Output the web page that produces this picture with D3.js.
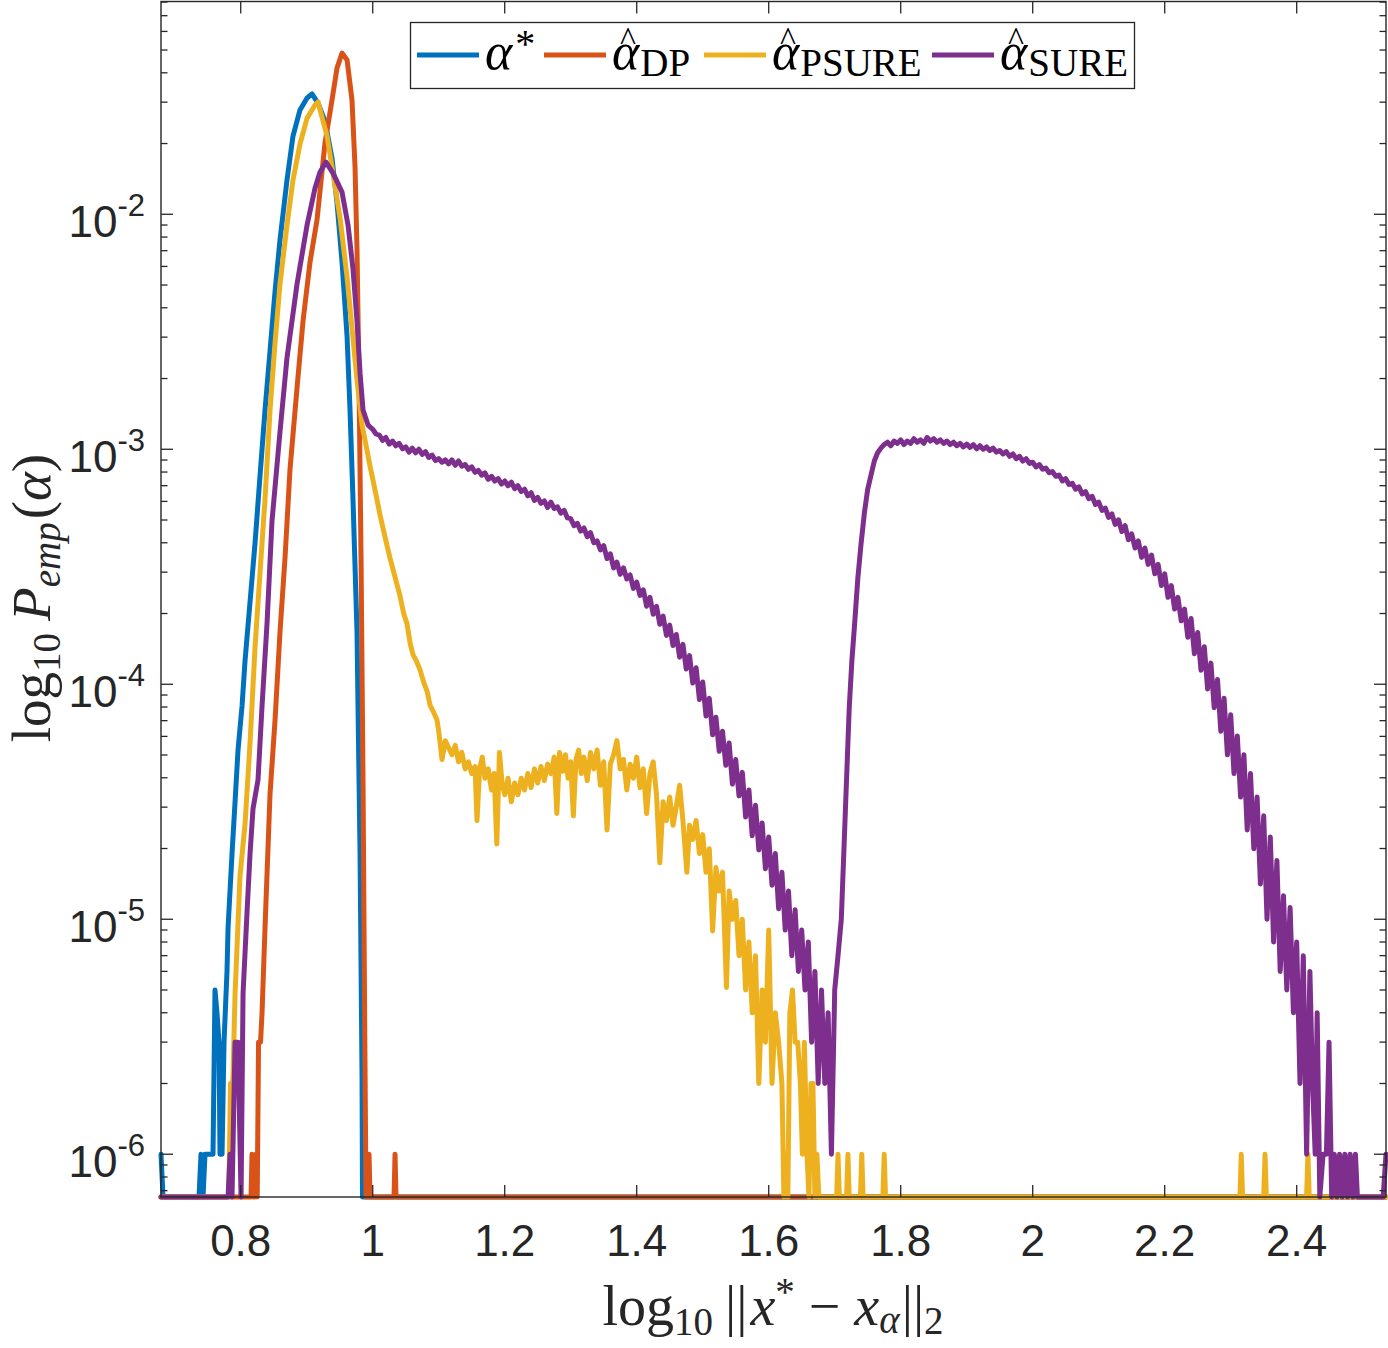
<!DOCTYPE html>
<html><head><meta charset="utf-8">
<script src="https://cdn.jsdelivr.net/npm/d3@7"></script>
<style>html,body{margin:0;padding:0;background:#fff;} svg{display:block;}</style>
</head><body>
<svg id="chart" width="1388" height="1348"></svg>
<script>
// ---------- DATA: [log10 ||x*-x_alpha||_2 , log10 P_emp] (null = empty bin) ----------
const xTicks = [0.8, 1, 1.2, 1.4, 1.6, 1.8, 2, 2.2, 2.4];
const yTickExps = [-6, -5, -4, -3, -2];
const xDomain = [0.6792, 2.5353];
const yDomainLog = [-6.182, -1.0945];

const alphaStar = [
[0.6792,-6],[0.6823,null],[0.7368,null],[0.7398,-6],[0.7429,null],[0.7459,-6],[0.7550,-6],[0.7580,-6],[0.7610,-5.301],[0.7640,-5.398],[0.7671,-5.523],[0.7686,-6],[0.7717,-6],[0.7747,-5.523],[0.7792,-5.222],[0.7808,-5.037],[0.7868,-4.722],[0.7914,-4.501],[0.7959,-4.280],[0.8020,-4.092],[0.8065,-3.901],[0.8141,-3.650],[0.8217,-3.399],[0.8292,-3.114],[0.8368,-2.833],[0.8444,-2.582],[0.8520,-2.327],[0.8595,-2.109],[0.8701,-1.854],[0.8792,-1.667],[0.8898,-1.556],[0.9005,-1.505],[0.9080,-1.488],[0.9171,-1.527],[0.9277,-1.604],[0.9383,-1.761],[0.9459,-1.952],[0.9535,-2.203],[0.9611,-2.518],[0.9656,-2.833],[0.9701,-3.212],[0.9762,-3.778],[0.9777,-4.092],[0.9808,-4.722],[0.9838,-5.667],[0.9845,null],[2.5353,null]
];

const alphaDP = [
[0.6792,null],[0.8156,null],[0.8171,-6],[0.8190,null],[0.8217,null],[0.8232,-6],[0.8250,null],[0.8270,-5.523],[0.8300,-5.523],[0.8323,-5.398],[0.8368,-5.037],[0.8444,-4.467],[0.8520,-4.152],[0.8595,-3.778],[0.8671,-3.463],[0.8747,-3.084],[0.8853,-2.739],[0.8944,-2.454],[0.9050,-2.203],[0.9156,-2.024],[0.9277,-1.696],[0.9383,-1.514],[0.9459,-1.378],[0.9535,-1.314],[0.9611,-1.343],[0.9686,-1.514],[0.9732,-1.799],[0.9762,-2.152],[0.9792,-2.705],[0.9823,-3.463],[0.9853,-4.407],[0.9876,-5.352],[0.9898,null],[0.9929,null],[0.9944,-6],[0.9959,null],[1.0323,null],[1.0338,-6],[1.0353,null],[2.5353,null]
];

const alphaPSURE = [
[0.6792,null],[0.7820,null],[0.7845,-5.699],[0.7880,-5.699],[0.7914,-5.318],[0.7989,-4.817],[0.8065,-4.596],[0.8141,-4.251],[0.8217,-3.841],[0.8292,-3.527],[0.8368,-3.212],[0.8444,-2.833],[0.8520,-2.548],[0.8595,-2.297],[0.8701,-2.046],[0.8792,-1.854],[0.8898,-1.701],[0.9005,-1.591],[0.9126,-1.535],[0.9171,-1.522],[0.9308,-1.667],[0.9398,-1.825],[0.9505,-2.016],[0.9611,-2.267],[0.9686,-2.484],[0.9762,-2.705],[0.9838,-2.897],[0.9883,-2.960],[0.9959,-3.071],[1.0035,-3.173],[1.0111,-3.280],[1.0186,-3.373],[1.0262,-3.463],[1.0338,-3.544],[1.0414,-3.624],[1.0470,-3.700],[1.0520,-3.743],[1.0570,-3.830],[1.0611,-3.875],[1.0660,-3.900],[1.0717,-3.939],[1.0770,-3.990],[1.0823,-4.029],[1.0870,-4.090],[1.0914,-4.114],[1.0974,-4.152],
[1.100,-4.20],[1.105,-4.32],[1.110,-4.24],[1.115,-4.27],[1.120,-4.30],[1.125,-4.26],[1.130,-4.33],[1.135,-4.29],[1.140,-4.36],[1.145,-4.33],[1.150,-4.38],[1.155,-4.35],[1.158,-4.58],[1.162,-4.36],[1.166,-4.31],[1.170,-4.40],[1.175,-4.36],[1.180,-4.45],[1.184,-4.38],[1.188,-4.68],[1.192,-4.29],[1.196,-4.42],[1.200,-4.47],[1.205,-4.40],[1.210,-4.50],[1.215,-4.42],[1.220,-4.47],[1.225,-4.40],[1.230,-4.45],[1.235,-4.38],[1.240,-4.44],[1.245,-4.36],[1.250,-4.42],[1.255,-4.35],[1.260,-4.41],[1.265,-4.34],[1.270,-4.38],[1.275,-4.31],[1.279,-4.55],[1.283,-4.29],[1.288,-4.37],[1.292,-4.30],[1.296,-4.40],[1.300,-4.33],[1.304,-4.56],[1.308,-4.32],[1.312,-4.28],[1.316,-4.38],[1.320,-4.31],[1.325,-4.41],[1.330,-4.29],[1.335,-4.36],[1.340,-4.28],[1.345,-4.43],[1.350,-4.33],[1.355,-4.62],[1.360,-4.34],[1.365,-4.30],[1.370,-4.24],[1.375,-4.36],[1.380,-4.32],[1.385,-4.45],[1.390,-4.34],[1.395,-4.40],[1.400,-4.31],[1.405,-4.44],[1.410,-4.36],[1.415,-4.55],[1.420,-4.38],[1.425,-4.33],[1.430,-4.47],[1.435,-4.76],[1.440,-4.50],[1.445,-4.58],[1.450,-4.48],[1.455,-4.60],[1.460,-4.52],[1.465,-4.43],[1.470,-4.58],[1.476,-4.80],[1.480,-4.60],[1.485,-4.66],[1.490,-4.58],[1.495,-4.72],[1.500,-4.64],[1.505,-4.80],[1.510,-4.70],[1.515,-5.05],[1.520,-4.78],[1.525,-4.88],[1.530,-4.80],[1.536,-5.29],[1.540,-4.88],[1.545,-5.00],[1.550,-4.92],[1.555,-5.155],[1.560,-5.00],[1.565,-5.301],[1.570,-5.097],[1.575,-5.398],[1.580,-5.155],[1.585,-5.699],[1.590,-5.301],[1.595,-5.523],[1.600,-5.046],[1.605,-5.699],[1.610,-5.398],[1.615,-5.523],[1.620,-5.699],[1.623,null],[1.626,-6],[1.629,null],[1.632,-5.398],[1.636,-5.301],[1.640,-5.523],[1.644,-5.523],[1.648,-5.699],[1.651,-6],[1.654,-5.523],[1.658,-6],[1.661,null],[1.664,-5.699],[1.667,-5.699],[1.670,null],[1.673,-6],[1.676,null],
[1.703,null],[1.705,-6],[1.707,null],[1.718,null],[1.720,-6],[1.722,null],[1.739,null],[1.741,-6],[1.743,null],[1.773,null],[1.775,-6],[1.777,null],[2.314,null],[2.316,-6],[2.318,null],[2.350,null],[2.352,-6],[2.354,null],[2.415,null],[2.417,-6],[2.419,null],[2.5353,null]
];

const alphaSURE = [
[0.6792,null],[0.7808,null],[0.7838,-6],[0.7868,null],[0.7914,-5.523],[0.7959,-5.523],[0.8005,null],[0.8035,-5.318],[0.8095,-4.973],[0.8141,-4.722],[0.8186,-4.530],[0.8262,-4.407],[0.8323,-4.092],[0.8398,-3.743],[0.8474,-3.305],[0.8595,-2.926],[0.8701,-2.611],[0.8853,-2.297],[0.9005,-2.046],[0.9126,-1.888],[0.9202,-1.820],[0.9292,-1.778],[0.9398,-1.825],[0.9535,-1.906],[0.9626,-2.046],[0.9701,-2.233],[0.9762,-2.454],[0.9808,-2.676],[0.9853,-2.833],[0.9929,-2.897],
[1.000,-2.915],[1.005,-2.935],[1.010,-2.940],[1.015,-2.962],[1.020,-2.950],[1.025,-2.978],[1.030,-2.965],[1.035,-2.985],[1.040,-2.975],[1.045,-2.998],[1.050,-2.990],[1.055,-3.012],[1.060,-2.995],[1.065,-3.015],[1.070,-3.000],[1.075,-3.022],[1.080,-3.010],[1.085,-3.035],[1.090,-3.025],[1.095,-3.048],[1.100,-3.040],[1.105,-3.055],[1.110,-3.045],[1.115,-3.062],[1.120,-3.045],[1.125,-3.068],[1.130,-3.050],[1.135,-3.072],[1.140,-3.065],[1.145,-3.085],[1.150,-3.075],[1.155,-3.098],[1.160,-3.090],[1.165,-3.110],[1.170,-3.100],[1.175,-3.128],[1.180,-3.115],[1.185,-3.135],[1.190,-3.125],[1.195,-3.148],[1.200,-3.135],[1.205,-3.155],[1.210,-3.140],[1.215,-3.168],[1.220,-3.155],[1.225,-3.180],[1.230,-3.170],[1.235,-3.198],[1.240,-3.185],[1.245,-3.218],[1.250,-3.205],[1.255,-3.230],[1.260,-3.220],[1.265,-3.248],[1.270,-3.225],[1.275,-3.252],[1.280,-3.245],[1.285,-3.272],[1.290,-3.260],[1.295,-3.292],[1.300,-3.295],[1.305,-3.325],[1.310,-3.315],[1.315,-3.348],[1.320,-3.335],[1.325,-3.372],[1.330,-3.355],[1.335,-3.398],[1.340,-3.390],[1.345,-3.428],[1.350,-3.410],[1.355,-3.465],[1.360,-3.445],[1.365,-3.505],[1.370,-3.480],[1.375,-3.532],[1.380,-3.505],[1.385,-3.552],[1.390,-3.535],[1.395,-3.592],[1.400,-3.565],[1.405,-3.622],[1.410,-3.598],[1.415,-3.668],[1.420,-3.630],[1.425,-3.702],[1.430,-3.668],[1.435,-3.745],[1.440,-3.710],[1.445,-3.792],[1.450,-3.748],[1.455,-3.835],[1.460,-3.788],[1.465,-3.885],[1.470,-3.830],[1.475,-3.935],[1.480,-3.878],[1.485,-3.995],[1.490,-3.930],[1.495,-4.065],[1.500,-3.990],[1.505,-4.135],[1.510,-4.060],[1.515,-4.215],[1.520,-4.140],[1.525,-4.285],[1.530,-4.200],[1.535,-4.345],[1.540,-4.250],[1.545,-4.425],[1.550,-4.320],[1.555,-4.475],[1.560,-4.375],[1.565,-4.565],[1.570,-4.450],[1.575,-4.645],[1.580,-4.515],[1.585,-4.705],[1.590,-4.590],[1.595,-4.785],[1.600,-4.650],[1.605,-4.855],[1.610,-4.720],[1.615,-4.955],[1.620,-4.800],[1.625,-5.046],[1.630,-4.880],[1.635,-5.155],[1.640,-4.960],[1.645,-5.222],[1.650,-5.046],[1.655,-5.301],[1.660,-5.097],[1.665,-5.523],[1.670,-5.222],[1.675,-5.699],[1.680,-5.301],[1.685,-5.699],[1.690,-5.398],[1.695,-6],[1.700,-5.301],[1.705,-5.155],[1.710,-5.000],[1.714,-4.700],[1.718,-4.400],[1.722,-4.100],[1.726,-3.900],[1.730,-3.750],[1.735,-3.550],[1.740,-3.400],[1.745,-3.270],[1.750,-3.170],[1.755,-3.110],[1.760,-3.050],[1.765,-3.015],[1.770,-2.995],
[1.775,-2.980],[1.780,-2.970],[1.785,-2.985],[1.790,-2.965],[1.795,-2.975],[1.800,-2.960],[1.805,-2.980],[1.810,-2.965],[1.815,-2.975],[1.820,-2.955],[1.825,-2.970],[1.830,-2.960],[1.835,-2.975],[1.840,-2.950],[1.845,-2.965],[1.850,-2.955],[1.855,-2.970],[1.860,-2.960],[1.865,-2.975],[1.870,-2.965],[1.875,-2.980],[1.880,-2.970],[1.885,-2.985],[1.890,-2.975],[1.895,-2.990],[1.900,-2.978],[1.905,-2.992],[1.910,-2.980],[1.915,-2.998],[1.920,-2.985],[1.925,-3.000],[1.930,-2.990],[1.935,-3.005],[1.940,-2.995],[1.945,-3.012],[1.950,-3.005],[1.955,-3.020],[1.960,-3.010],[1.965,-3.030],[1.970,-3.020],[1.975,-3.040],[1.980,-3.030],[1.985,-3.050],[1.990,-3.040],[1.995,-3.060],[2.000,-3.055],[2.005,-3.075],[2.010,-3.065],[2.015,-3.085],[2.020,-3.080],[2.025,-3.100],[2.030,-3.095],[2.035,-3.115],[2.040,-3.110],[2.045,-3.135],[2.050,-3.125],[2.055,-3.150],[2.060,-3.145],[2.065,-3.170],[2.070,-3.160],[2.075,-3.190],[2.080,-3.180],[2.085,-3.210],[2.090,-3.200],[2.095,-3.235],[2.100,-3.225],[2.105,-3.260],[2.110,-3.250],[2.115,-3.290],[2.120,-3.275],[2.125,-3.320],[2.130,-3.300],[2.135,-3.350],[2.140,-3.325],[2.145,-3.385],[2.150,-3.360],[2.155,-3.420],[2.160,-3.390],[2.165,-3.460],[2.170,-3.420],[2.175,-3.490],[2.180,-3.450],[2.185,-3.530],[2.190,-3.490],[2.195,-3.580],[2.200,-3.530],[2.205,-3.630],[2.210,-3.580],[2.215,-3.680],[2.220,-3.630],[2.225,-3.730],[2.230,-3.680],[2.235,-3.800],[2.240,-3.720],[2.245,-3.870],[2.250,-3.780],[2.255,-3.940],[2.260,-3.840],[2.265,-4.020],[2.270,-3.910],[2.275,-4.100],[2.280,-3.980],[2.285,-4.200],[2.290,-4.060],[2.295,-4.300],[2.300,-4.130],[2.305,-4.380],[2.310,-4.220],[2.315,-4.480],[2.320,-4.300],[2.325,-4.620],[2.330,-4.380],[2.335,-4.700],[2.340,-4.480],[2.345,-4.850],[2.350,-4.560],[2.355,-5.000],[2.360,-4.650],[2.365,-5.097],[2.370,-4.750],[2.375,-5.222],[2.380,-4.900],[2.385,-5.301],[2.390,-4.950],[2.395,-5.398],[2.400,-5.097],[2.405,-5.699],[2.410,-5.155],[2.415,-6],[2.420,-5.222],[2.424,-5.699],[2.428,-6],[2.431,-5.398],[2.435,null],[2.440,-6],[2.445,-6],[2.449,-5.523],[2.453,null],[2.457,-6],[2.461,null],[2.465,-6],[2.469,null],[2.473,-6],[2.477,null],[2.481,-6],[2.485,null],[2.489,-6],[2.492,null],[2.531,null],[2.5353,-6]
];

const seriesData = [alphaStar, alphaDP, alphaPSURE, alphaSURE];
const seriesColors = ['#0072BD', '#D95319', '#EDB120', '#7E2F8E'];
const legendSubs = [null, 'DP', 'PSURE', 'SURE'];

// ---------- LAYOUT ----------
const plot = {left: 161, right: 1386, top: 1.5, bottom: 1197};
const svg = d3.select('#chart');
const axisColor = '#262626';
const sansFont = "'Liberation Sans', Arial, Helvetica, sans-serif";
const serifFont = "'Liberation Serif', 'Times New Roman', serif";
const lineW = 5;

const xScale = d3.scaleLinear().domain(xDomain).range([plot.left, plot.right]);
const yScale = d3.scaleLog().domain([Math.pow(10, yDomainLog[0]), Math.pow(10, yDomainLog[1])]).range([plot.bottom, plot.top]);

svg.append('rect').attr('width', 1388).attr('height', 1348).attr('fill', '#fff');

// series
const line = d3.line()
  .x(d => xScale(d[0]))
  .y(d => d[1] === null ? plot.bottom : yScale(Math.pow(10, d[1])));

seriesData.forEach((s, i) => {
  svg.append('path').attr('d', line(s)).attr('fill', 'none')
    .attr('stroke', seriesColors[i]).attr('stroke-width', lineW)
    .attr('stroke-linejoin', 'round').attr('stroke-linecap', 'round');
});

// axes box
const gAx = svg.append('g');
gAx.append('rect').attr('x', plot.left).attr('y', plot.top)
  .attr('width', plot.right - plot.left).attr('height', plot.bottom - plot.top)
  .attr('fill', 'none').attr('stroke', axisColor).attr('stroke-width', 1.4);

// x ticks
xTicks.forEach(v => {
  const x = xScale(v);
  gAx.append('line').attr('x1', x).attr('x2', x).attr('y1', plot.bottom).attr('y2', plot.bottom - 12).attr('stroke', axisColor).attr('stroke-width', 1.3);
  gAx.append('line').attr('x1', x).attr('x2', x).attr('y1', plot.top).attr('y2', plot.top + 12).attr('stroke', axisColor).attr('stroke-width', 1.3);
  gAx.append('text').attr('x', x).attr('y', 1256).attr('text-anchor', 'middle')
    .attr('font-family', sansFont).attr('font-size', 44).attr('fill', axisColor).text(String(v));
});

// y ticks (major + minor)
const yd = yScale.domain();
for (let k = -7; k <= -1; k++) {
  for (let m = 1; m <= 9; m++) {
    const v = m * Math.pow(10, k);
    if (v < yd[0] || v > yd[1]) continue;
    const y = yScale(v);
    const len = m === 1 ? 12 : 6.5;
    gAx.append('line').attr('x1', plot.left).attr('x2', plot.left + len).attr('y1', y).attr('y2', y).attr('stroke', axisColor).attr('stroke-width', 1.3);
    gAx.append('line').attr('x1', plot.right).attr('x2', plot.right - len).attr('y1', y).attr('y2', y).attr('stroke', axisColor).attr('stroke-width', 1.3);
  }
}
yTickExps.forEach(e => {
  const y = yScale(Math.pow(10, e));
  const t = gAx.append('text').attr('x', 145).attr('y', y + 23).attr('text-anchor', 'end')
    .attr('font-family', sansFont).attr('font-size', 44).attr('fill', axisColor);
  t.append('tspan').text('10');
  t.append('tspan').attr('dy', -21).attr('font-size', 31).text('-' + Math.abs(e));
});

// x label
const xl = svg.append('text').attr('x', 773).attr('y', 1325).attr('text-anchor', 'middle')
  .attr('font-family', serifFont).attr('font-size', 56).attr('fill', axisColor);
xl.append('tspan').text('log');
xl.append('tspan').attr('font-size', 39).attr('dy', 10).text('10');
xl.append('tspan').attr('dy', -10).attr('dx', 12).text('||');
xl.append('tspan').attr('dx', 3).attr('font-style', 'italic').text('x');
xl.append('tspan').attr('font-size', 39).attr('dy', -20).text('*');
xl.append('tspan').attr('dy', 20).text(' \u2212 ');
xl.append('tspan').attr('font-style', 'italic').text('x');
xl.append('tspan').attr('font-style', 'italic').attr('font-size', 39).attr('dy', 8).text('\u03B1');
xl.append('tspan').attr('dy', -8).attr('dx', 2).text('||');
xl.append('tspan').attr('font-size', 39).attr('dy', 9).text('2');

// y label
const yl = svg.append('text').attr('transform', 'translate(50,598) rotate(-90)').attr('text-anchor', 'middle')
  .attr('font-family', serifFont).attr('font-size', 55).attr('fill', axisColor);
yl.append('tspan').text('log');
yl.append('tspan').attr('font-size', 39).attr('dy', 10).text('10');
yl.append('tspan').attr('dy', -10).attr('dx', 12).attr('font-style', 'italic').text('P');
yl.append('tspan').attr('font-style', 'italic').attr('font-size', 39).attr('dy', 10).text('emp');
yl.append('tspan').attr('dy', -10).attr('dx', 3).text('(');
yl.append('tspan').attr('font-style', 'italic').text('\u03B1');
yl.append('tspan').text(')');

// legend
const lg = svg.append('g');
lg.append('rect').attr('x', 410.5).attr('y', 22.5).attr('width', 724).attr('height', 66)
  .attr('fill', '#fff').attr('stroke', axisColor).attr('stroke-width', 1.3);
const legendX = [417, 544, 704, 932];
seriesColors.forEach((c, i) => {
  const x0 = legendX[i];
  lg.append('line').attr('x1', x0).attr('x2', x0 + 62).attr('y1', 55).attr('y2', 55)
    .attr('stroke', c).attr('stroke-width', lineW);
  const tx = x0 + 68;
  const t = lg.append('text').attr('x', tx).attr('y', 69).attr('font-family', serifFont)
    .attr('font-size', 52).attr('fill', '#000');
  t.append('tspan').attr('font-style', 'italic').text('\u03B1');
  if (legendSubs[i] === null) {
    t.append('tspan').attr('font-size', 40).attr('dy', -12).attr('dx', 3).text('*');
  } else {
    t.append('tspan').attr('font-size', 39).attr('dy', 7).attr('dx', 1).text(legendSubs[i]);
    lg.append('text').attr('x', tx + 16).attr('y', 50).attr('text-anchor', 'middle')
      .attr('font-family', serifFont).attr('font-size', 34).attr('fill', '#000').text('^');
  }
});
</script>
</body></html>
